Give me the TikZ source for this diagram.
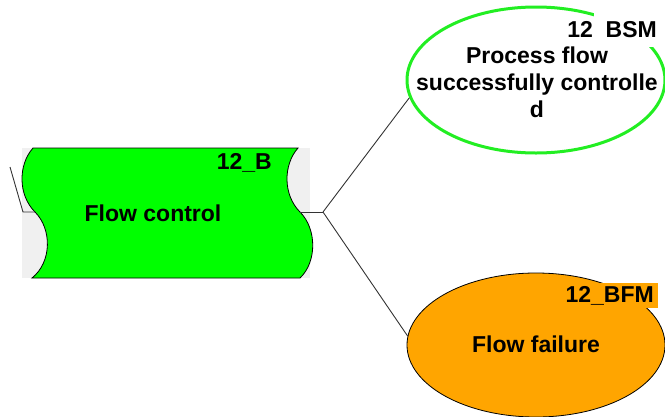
\documentclass[tikz,border=0pt]{standalone}
\usepackage{fontspec}
\setmainfont{Liberation Sans}
\usetikzlibrary{shapes.geometric}

\definecolor{flowgreen}{HTML}{00FF00}
\definecolor{ringgreen}{HTML}{22EE22}
\definecolor{failorange}{HTML}{FFA500}
\definecolor{padgray}{HTML}{F0F0F0}

\tikzset{
  tag/.style={font=\bfseries\fontsize{23}{27}\selectfont, inner sep=1pt},
  body/.style={font=\bfseries\fontsize{23}{27}\selectfont, align=center},
  link/.style={draw=black!80, line width=0.9pt},
}

\begin{document}
\begin{tikzpicture}[x=1pt,y=-1pt]
\useasboundingbox (0,0) rectangle (665,416);
\clip (0,0) rectangle (665,416);
% wavy block
\fill[padgray] (22,148) rectangle (310,278);
\filldraw[fill=flowgreen, draw=black, line width=0.8pt]
  (33,148) -- (298,148)
  .. controls (283,165) and (283,195) .. (300,212)
  .. controls (317,229) and (317,262) .. (300,278)
  -- (32,278)
  .. controls (52,262) and (52,229) .. (35,212)
  .. controls (18,195) and (18,165) .. (33,148) -- cycle;
\coordinate (fc-in) at (35,212);
\coordinate (fc-out) at (300,212);
\node[body] (flow) at (153,213) {Flow control};
\node[tag, fill=flowgreen, anchor=base east] (flow-id) at (273,169) {12\_B};

% ellipses
\node[ellipse, draw=ringgreen, line width=3pt, fill=white, minimum width=258, minimum height=146, inner sep=0] (bsm) at (536,80) {};
\node[ellipse, draw=black, line width=0.8pt, fill=failorange, minimum width=258, minimum height=144, inner sep=0] (bfm) at (536,345) {};

% connectors
\coordinate (feed) at (10,167);
\coordinate (feed-bend) at (23,212);
\coordinate (split) at (323,212);
\draw[link] (feed) -- (feed-bend) -- (fc-in);
\draw[link] (fc-out) -- (split);
\draw[link] (split) -- (bsm.188);
\draw[link] (split) -- (bfm.176);

% labels
\fill[white] (594,5) rectangle (665,47);
\node[tag, anchor=base east] (bsm-id) at (658,37) {12\phantom{\_}BSM};
\node[body] (bsm-text) at (537,82) {Process flow\\successfully controlle\\d};
\node[tag, fill=failorange, anchor=base east, inner xsep=4pt, inner ysep=3pt] (bfm-id) at (658,302) {12\_BFM};
\node[body] (bfm-text) at (536,344) {Flow failure};
\end{tikzpicture}
\end{document}
